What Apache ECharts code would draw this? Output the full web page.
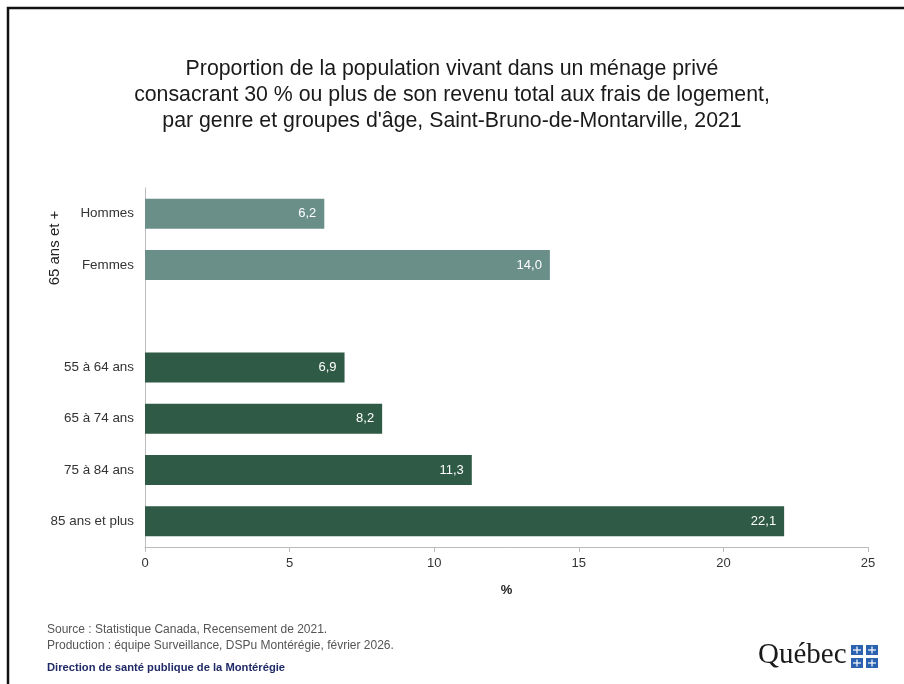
<!DOCTYPE html>
<html><head><meta charset="utf-8">
<script src="https://cdn.jsdelivr.net/npm/echarts@6/dist/echarts.min.js"></script>
<style>html,body{margin:0;padding:0;background:#fff}#c{width:904px;height:684px}</style>
</head><body><div id="c"></div>
<script>
var categories = ['Hommes', 'Femmes', '', '55 à 64 ans', '65 à 74 ans', '75 à 84 ans', '85 ans et plus'];
var values = [6.2, 14.0, null, 6.9, 8.2, 11.3, 22.1];
var groups = ['gender', 'gender', 'none', 'age', 'age', 'age', 'age'];
var xTicks = [0, 5, 10, 15, 20, 25];
var groupLabel = '65 ans et +';
var titleText = 'Proportion de la population vivant dans un ménage privé\nconsacrant 30 % ou plus de son revenu total aux frais de logement,\npar genre et groupes d\'âge, Saint-Bruno-de-Montarville, 2021';
var colorMap = {gender: '#6a8f89', age: '#2e5a46', none: '#ffffff'};
var narrow = '"Liberation Sans Narrow", "Arial Narrow", "Liberation Sans", Arial, sans-serif';
var sans = 'Arial, "Liberation Sans", sans-serif';

var chart = echarts.init(document.getElementById('c'), null, {renderer: 'canvas'});
var flagX = 851, flagY = 645, sw = 12, sh = 10, gap = 3;
var flags = [];
[[0,0],[1,0],[0,1],[1,1]].forEach(function(p){
  var x = flagX + p[0]*(sw+gap), y = flagY + p[1]*(sh+gap);
  flags.push({type:'rect', shape:{x:x,y:y,width:sw,height:sh}, style:{fill:'#2a62b0'}});
  flags.push({type:'rect', shape:{x:x+sw/2-0.6,y:y+1.5,width:1.2,height:sh-3}, style:{fill:'#fff'}});
  flags.push({type:'rect', shape:{x:x+2,y:y+sh/2-0.6,width:sw-4,height:1.2}, style:{fill:'#fff'}});
});
chart.setOption({
  backgroundColor: '#fff',
  animation: false,
  title: {
    text: titleText, left: 'center', top: 51,
    textStyle: {fontFamily: narrow, fontSize: 21.3, fontWeight: 'normal', color: '#1a1a1a', lineHeight: 26}
  },
  grid: {left: 145, right: 36, top: 188, bottom: 137},
  xAxis: {
    type: 'value', min: 0, max: 25, interval: 5,
    name: '%', nameLocation: 'middle', nameGap: 37,
    nameTextStyle: {fontFamily: narrow, fontSize: 13, color: '#222', fontWeight: 'bold'},
    axisLine: {show: true, lineStyle: {color: '#bbbbbb'}},
    axisTick: {show: true, length: 5, lineStyle: {color: '#bbbbbb'}},
    axisLabel: {fontFamily: narrow, fontSize: 13, color: '#333', margin: 10,
      formatter: function(v){ return xTicks.indexOf(v) >= 0 ? String(v) : ''; }},
    splitLine: {show: false}
  },
  yAxis: {
    type: 'category', data: categories, inverse: true,
    axisLine: {show: true, lineStyle: {color: '#bbbbbb'}},
    axisTick: {show: false},
    axisLabel: {fontFamily: sans, fontSize: 13.4, color: '#333', margin: 11}
  },
  series: [{
    type: 'bar', barWidth: 30,
    data: values.map(function(v, i){ return {value: v, itemStyle: {color: colorMap[groups[i]]}}; }),
    label: {
      show: true, position: 'insideRight', distance: 8, color: '#fff',
      fontFamily: narrow, fontSize: 13,
      formatter: function(p){ return p.value == null ? '' : p.value.toFixed(1).replace('.', ','); }
    }
  }],
  graphic: [
    {type: 'polyline', shape: {points: [[8, 684], [8, 8], [904, 8]]}, style: {stroke: '#111', lineWidth: 2.5, fill: null}},
    {type: 'text', x: 55, y: 248, rotation: Math.PI/2,
     style: {text: groupLabel, font: '15px ' + sans, fill: '#222', textAlign: 'center', textVerticalAlign: 'middle'}},
    {type: 'text', x: 47, y: 624, style: {text: 'Source : Statistique Canada, Recensement de 2021.', font: '12px ' + sans, fill: '#555'}},
    {type: 'text', x: 47, y: 640, style: {text: 'Production : équipe Surveillance, DSPu Montérégie, février 2026.', font: '12px ' + sans, fill: '#555'}},
    {type: 'text', x: 47, y: 662, style: {text: 'Direction de santé publique de la Montérégie', font: 'bold 11.2px ' + narrow, fill: '#1f2a66'}},
    {type: 'text', x: 758, y: 641, style: {text: 'Québec', font: '29px "Liberation Serif", "Times New Roman", serif', fill: '#1a1a1a'}}
  ].concat(flags)
});
</script></body></html>
